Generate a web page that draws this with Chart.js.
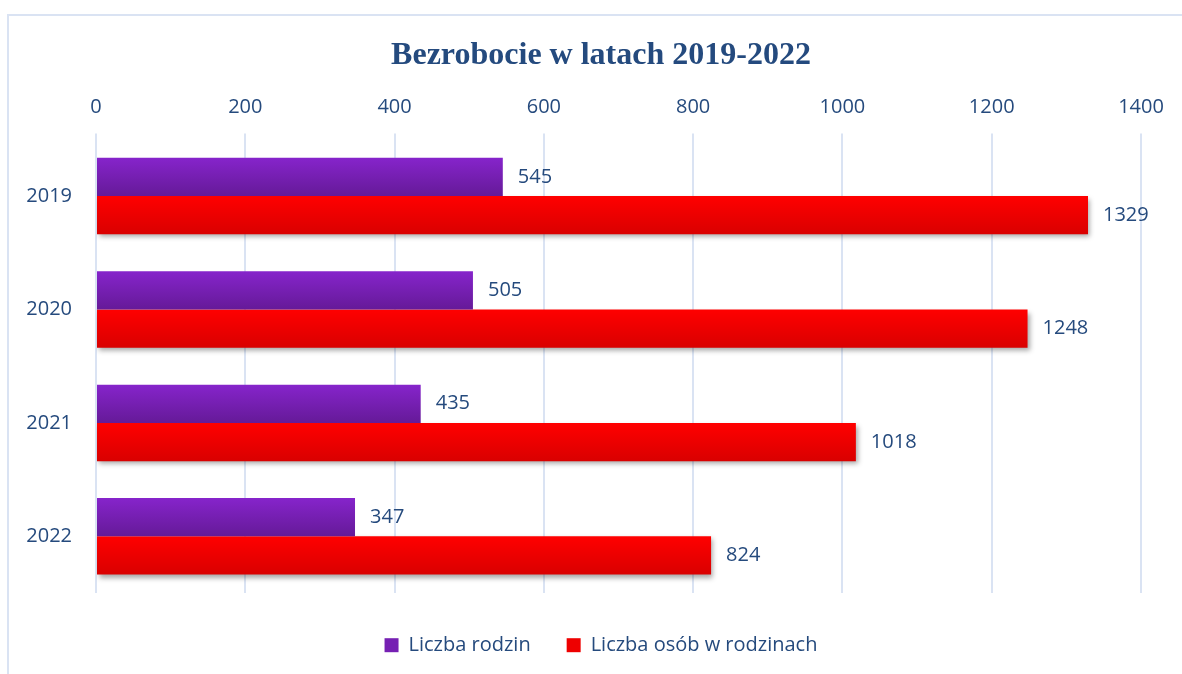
<!DOCTYPE html>
<html>
<head>
<meta charset="utf-8">
<script src="https://cdn.jsdelivr.net/npm/chart.js@4.4.0/dist/chart.umd.min.js"></script>
<style>
    body { margin: 0; background: #fff; }
    #wrap { width: 1182px; height: 674px; }
</style>
</head>
<body>
<div id="wrap"><canvas id="bezrobocieChart" width="1182" height="674"></canvas></div>
<script>
var years = ["2019", "2020", "2021", "2022"];
var rodzinyValues = [545, 505, 435, 347];
var osobyValues = [1329, 1248, 1018, 824];
var seriesNames = ["Liczba rodzin", "Liczba osób w rodzinach"];
var xTicks = [0, 200, 400, 600, 800, 1000, 1200, 1400];

var textColor = "#254a7d";
var gridColor = "#dae3f3";
var tickFont = { family: "'Open Sans'", size: 20 };

// gradient colours (top, bottom) for each series
var gradientStops = [
    ["#8624cb", "#651a98"],
    ["#ff0000", "#d90000"]
];

// frame round the chart
var framePlugin = {
    id: 'frame',
    beforeDraw: function(chart) {
        var ctx = chart.ctx;
        ctx.save();
        ctx.fillStyle = "#fff";
        ctx.fillRect(0, 0, chart.width, chart.height);
        ctx.strokeStyle = gridColor;
        ctx.lineWidth = 2;
        ctx.beginPath();
        ctx.moveTo(8, chart.height);
        ctx.lineTo(8, 15);
        ctx.lineTo(chart.width, 15);
        ctx.stroke();
        ctx.restore();
    }
};

// gradient fill + shadow for the bars
var barStylePlugin = {
    id: 'barStyle',
    beforeDatasetDraw: function(chart, args) {
        var ctx = chart.ctx;
        var meta = args.meta;
        var stops = gradientStops[args.index];
        meta.data.forEach(function(el) {
            var top = el.y - el.height / 2;
            var grad = ctx.createLinearGradient(0, top, 0, top + el.height);
            grad.addColorStop(0, stops[0]);
            grad.addColorStop(1, stops[1]);
            el.options = Object.assign({}, el.options, { backgroundColor: grad });
        });
        ctx.save();
        if (args.index == 1) {
            ctx.shadowColor = "rgba(0, 0, 0, 0.35)";
            ctx.shadowBlur = 5;
            ctx.shadowOffsetX = 2;
            ctx.shadowOffsetY = 3;
        }
    },
    afterDatasetDraw: function(chart) {
        chart.ctx.restore();
    }
};

// value labels at the end of the bars
var valueLabelPlugin = {
    id: 'valueLabels',
    afterDatasetsDraw: function(chart) {
        var ctx = chart.ctx;
        ctx.save();
        ctx.font = tickFont.size + "px " + tickFont.family;
        ctx.fillStyle = textColor;
        ctx.textAlign = "left";
        ctx.textBaseline = "middle";
        chart.data.datasets.forEach(function(ds, i) {
            var meta = chart.getDatasetMeta(i);
            meta.data.forEach(function(el, j) {
                ctx.fillText(ds.data[j], el.x + 15, el.y);
            });
        });
        ctx.restore();
    }
};

var ctx = document.getElementById("bezrobocieChart").getContext('2d');
var myChart = new Chart(ctx, {
    type: 'bar',
    data: {
        labels: years,
        datasets: [{
            label: seriesNames[0],
            data: rodzinyValues,
            backgroundColor: "#7620b3",
            borderWidth: 0,
            categoryPercentage: 0.675,
            barPercentage: 1
        }, {
            label: seriesNames[1],
            data: osobyValues,
            backgroundColor: "#ee0000",
            borderWidth: 0,
            categoryPercentage: 0.675,
            barPercentage: 1
        }]
    },
    options: {
        indexAxis: 'y',
        responsive: false,
        animation: false,
        events: [],
        layout: {
            padding: { top: 20, left: 20, right: 0, bottom: 9 }
        },
        scales: {
            x: {
                position: 'top',
                min: 0,
                max: 1400,
                afterBuildTicks: function(scale) {
                    scale.ticks = xTicks.map(function(v) { return { value: v }; });
                },
                afterFit: function(scale) {
                    scale.paddingRight = 41;
                },
                grid: {
                    color: gridColor,
                    lineWidth: 2,
                    drawTicks: true,
                    tickLength: 6
                },
                border: { display: false },
                ticks: {
                    color: textColor,
                    font: tickFont,
                    padding: 14,
                    maxRotation: 0,
                    callback: function(value) { return String(value); }
                }
            },
            y: {
                grid: { display: false, drawTicks: false },
                border: { display: false },
                ticks: {
                    color: textColor,
                    font: tickFont,
                    padding: 24
                },
                afterFit: function(scale) {
                    scale.width = 76;
                }
            }
        },
        plugins: {
            title: {
                display: true,
                text: "Bezrobocie w latach 2019-2022",
                color: "#244a7e",
                font: { family: "'Liberation Serif'", size: 32, weight: 'bold' },
                padding: { top: 17, bottom: 6 }
            },
            legend: {
                position: 'bottom',
                maxHeight: 72,
                title: {
                    display: true,
                    text: '',
                    font: { size: 1 },
                    padding: { top: 5, bottom: 0 }
                },
                labels: {
                    color: textColor,
                    font: tickFont,
                    boxWidth: 14,
                    boxHeight: 14,
                    padding: 36
                }
            },
            tooltip: { enabled: false }
        }
    },
    plugins: [framePlugin, barStylePlugin, valueLabelPlugin]
});
</script>
</body>
</html>
